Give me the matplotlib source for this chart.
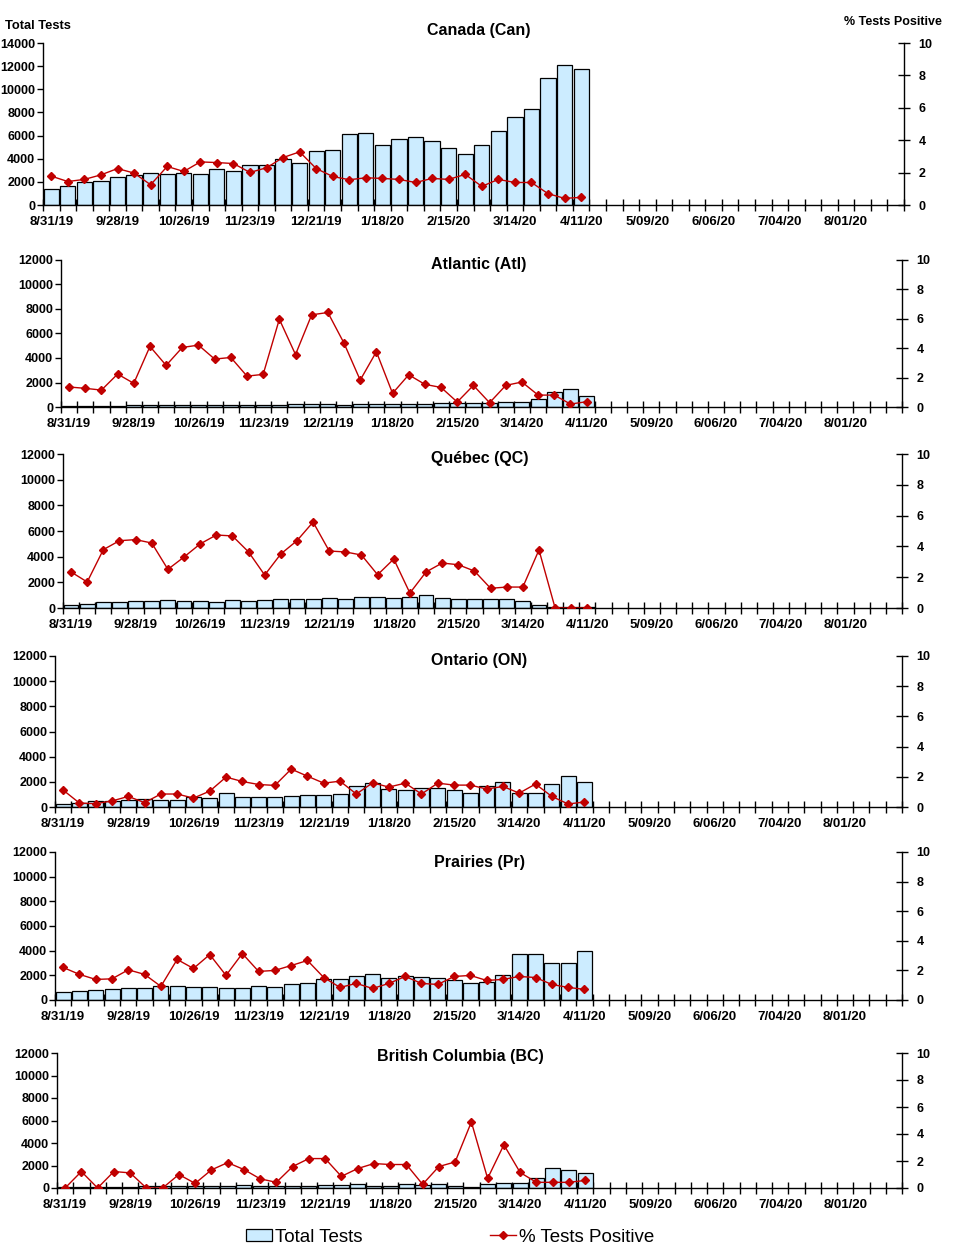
import matplotlib
matplotlib.use("Agg")
import matplotlib.pyplot as plt
import numpy as np
from matplotlib.patches import Patch
from matplotlib.lines import Line2D

plt.rcParams['font.family'] = ['Liberation Sans', 'DejaVu Sans']

# ---------------- data ----------------
date_labels = ['8/31/19', '9/28/19', '10/26/19', '11/23/19', '12/21/19', '1/18/20',
               '2/15/20', '3/14/20', '4/11/20', '5/09/20', '6/06/20', '7/04/20', '8/01/20']
n_weeks = 52

canada_tests = [1380, 1600, 1950, 2100, 2380, 2550, 2750, 2640, 2800, 2640, 3150, 2900, 3500,
                3500, 4000, 3590, 4680, 4790, 6170, 6250, 5200, 5740, 5910, 5570, 4960, 4450,
                5200, 6430, 7630, 8320, 11000, 12100, 11760]
canada_pos = [1.78, 1.45, 1.58, 1.86, 2.25, 1.97, 1.25, 2.38, 2.07, 2.66, 2.62, 2.56, 2.01,
              2.30, 2.93, 3.28, 2.25, 1.76, 1.56, 1.68, 1.64, 1.58, 1.39, 1.64, 1.58, 1.89,
              1.15, 1.58, 1.39, 1.39, 0.70, 0.41, 0.47]

atl_tests = [50, 50, 50, 50, 140, 140, 140, 140, 140, 140, 140, 140, 140, 140, 250, 250, 250,
             140, 220, 220, 220, 220, 220, 300, 300, 300, 300, 440, 440, 690, 1260, 1500, 930]
atl_pos = [1.36, 1.27, 1.15, 2.24, 1.61, 4.12, 2.83, 4.05, 4.21, 3.26, 3.37, 2.10, 2.22,
           5.97, 3.57, 6.27, 6.43, 4.34, 1.83, 3.76, 0.93, 2.19, 1.54, 1.33, 0.34, 1.47,
           0.29, 1.47, 1.70, 0.81, 0.81, 0.20, 0.36]

qc_tests = [260, 340, 470, 470, 545, 545, 620, 545, 545, 470, 620, 545, 620, 700, 700, 700,
            780, 700, 860, 860, 780, 860, 1010, 780, 700, 700, 700, 700, 545, 260, 60, 60, 60]
qc_pos = [2.34, 1.69, 3.79, 4.37, 4.44, 4.22, 2.51, 3.31, 4.16, 4.74, 4.68, 3.64, 2.14,
          3.51, 4.37, 5.58, 3.70, 3.64, 3.44, 2.16, 3.18, 0.97, 2.34, 2.92, 2.81, 2.40,
          1.28, 1.36, 1.36, 3.77, 0.0, 0.0, 0.0]

on_tests = [240, 340, 450, 450, 530, 660, 580, 580, 765, 710, 1130, 790, 790, 790, 870, 950,
            950, 1055, 1660, 1925, 1450, 1345, 1500, 1500, 1345, 1110, 1660, 1980, 1130, 1130,
            1820, 2450, 1980]
on_pos = [1.12, 0.26, 0.22, 0.40, 0.70, 0.29, 0.86, 0.86, 0.59, 1.05, 1.98, 1.69, 1.49,
          1.43, 2.51, 2.04, 1.58, 1.71, 0.86, 1.60, 1.32, 1.58, 0.86, 1.58, 1.45, 1.45,
          1.19, 1.36, 0.92, 1.52, 0.70, 0.20, 0.33]

pr_tests = [620, 730, 810, 860, 940, 940, 1100, 1100, 1020, 1020, 940, 940, 1100, 1020, 1260,
            1350, 1670, 1670, 1910, 2070, 1750, 1910, 1830, 1750, 1590, 1350, 1430, 1990, 3690,
            3690, 2960, 2960, 4010]
pr_pos = [2.20, 1.73, 1.39, 1.43, 2.04, 1.73, 0.92, 2.74, 2.13, 3.07, 1.66, 3.14, 1.93,
          2.00, 2.33, 2.67, 1.52, 0.85, 1.12, 0.78, 1.12, 1.59, 1.12, 1.05, 1.59, 1.66,
          1.32, 1.39, 1.59, 1.52, 1.05, 0.85, 0.72]

bc_tests = [100, 100, 100, 100, 100, 180, 180, 180, 180, 180, 180, 310, 180, 180, 180, 180,
            280, 280, 370, 180, 180, 370, 250, 370, 180, 60, 370, 460, 460, 920, 1750, 1570, 1290]
bc_pos = [0.0, 1.22, 0.0, 1.22, 1.12, 0.0, 0.0, 1.00, 0.34, 1.34, 1.88, 1.37, 0.68, 0.42,
          1.59, 2.18, 2.18, 0.86, 1.44, 1.81, 1.74, 1.74, 0.27, 1.59, 1.93, 4.89, 0.71,
          3.20, 1.15, 0.42, 0.42, 0.42, 0.56]

titles = ['Canada (Can)', 'Atlantic (Atl)', 'Québec (QC)', 'Ontario (ON)',
          'Prairies (Pr)', 'British Columbia (BC)']
tests_series = [canada_tests, atl_tests, qc_tests, on_tests, pr_tests, bc_tests]
pos_series = [canada_pos, atl_pos, qc_pos, on_pos, pr_pos, bc_pos]
left_max = [14000, 12000, 12000, 12000, 12000, 12000]

# ---------------- layout (pixels: left, right, top, bottom) ----------------
W, H = 959, 1260
boxes = [(43, 904, 43, 205), (61, 902, 260, 407), (63, 902, 454, 608),
         (55, 902, 656, 807), (55, 902, 852, 1000), (57, 902, 1053, 1188)]
title_pos = [(479, 31), (479, 264), (480, 458), (479, 660), (479, 862), (460, 1057)]

BAR_COLOR = '#CCECFF'
LINE_COLOR = '#C00000'

fig = plt.figure(figsize=(W / 100, H / 100), dpi=100)

for i in range(6):
    l, r, t, b = boxes[i]
    ax = fig.add_axes([l / W, 1 - b / H, (r - l) / W, (b - t) / H])
    tests = tests_series[i]
    pos = pos_series[i]
    x = np.arange(len(tests))
    ax.bar(x, tests, width=0.92, color=BAR_COLOR, edgecolor='black', linewidth=0.9, zorder=2)
    ax.set_xlim(-0.5, n_weeks - 0.5)
    ax.set_ylim(0, left_max[i])
    ax.set_yticks(np.arange(0, left_max[i] + 1, 2000))
    ax.spines['top'].set_visible(False)
    ax.spines['right'].set_visible(False)
    ax.spines['left'].set_linewidth(1.0)
    ax.spines['bottom'].set_linewidth(1.0)
    ax.tick_params(axis='y', which='major', direction='out', length=4, width=1,
                   labelsize=9, pad=1.5)
    for lab in ax.get_yticklabels():
        lab.set_fontweight('bold')
    # x ticks: labels at category centers, marks at category boundaries
    ax.set_xticks(np.arange(0, n_weeks, 4))
    ax.set_xticklabels(date_labels, fontsize=9.5, fontweight='bold')
    ax.set_xticks(np.arange(-0.5, n_weeks, 1), minor=True)
    ax.tick_params(axis='x', which='major', length=0, pad=8)
    ax.tick_params(axis='x', which='minor', direction='inout', length=8, width=1)

    ax2 = ax.twinx()
    ax2.plot(x, pos, color=LINE_COLOR, linewidth=1.0, marker='D', markersize=4.5,
             markerfacecolor=LINE_COLOR, markeredgecolor=LINE_COLOR, zorder=3)
    ax2.set_ylim(0, 10)
    ax2.set_yticks(np.arange(0, 11, 2))
    ax2.spines['top'].set_visible(False)
    ax2.spines['left'].set_visible(False)
    ax2.spines['bottom'].set_visible(False)
    ax2.spines['right'].set_linewidth(1.0)
    ax2.tick_params(axis='y', direction='inout', length=9, width=1, labelsize=9, pad=6)
    for lab in ax2.get_yticklabels():
        lab.set_fontweight('bold')

    tx, ty = title_pos[i]
    fig.text(tx / W, 1 - ty / H, titles[i], ha='center', va='center',
             fontsize=11.5, fontweight='bold')

fig.text(5 / W, 1 - 26 / H, 'Total Tests', ha='left', va='center', fontsize=9.3,
         fontweight='bold')
fig.text(942 / W, 1 - 22 / H, '% Tests Positive', ha='right', va='center', fontsize=9,
         fontweight='bold')

handles = [Patch(facecolor=BAR_COLOR, edgecolor='black', linewidth=0.9),
           Line2D([0], [0], color=LINE_COLOR, linewidth=1.0, marker='D', markersize=4,
                  markerfacecolor=LINE_COLOR)]
fig.legend(handles, ['Total Tests', '% Tests Positive'], loc='center',
           bbox_to_anchor=(450 / W, 1 - 1237 / H), ncol=2, frameon=False,
           fontsize=13.5, handlelength=1.4, handleheight=0.6, handletextpad=0.15,
           columnspacing=6.8)

fig.savefig('out.png', dpi=100)
